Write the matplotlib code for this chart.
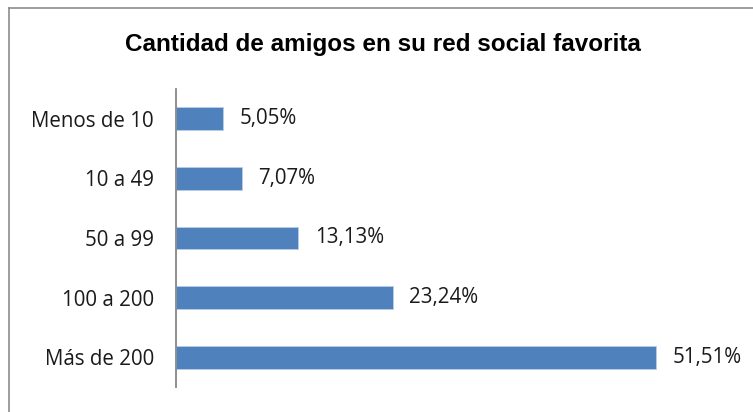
import matplotlib
matplotlib.use("Agg")
import matplotlib.pyplot as plt
from matplotlib.lines import Line2D

categories = ["Menos de 10", "10 a 49", "50 a 99", "100 a 200", "Más de 200"]
values = [5.05, 7.07, 13.13, 23.24, 51.51]
labels = ["5,05%", "7,07%", "13,13%", "23,24%", "51,51%"]
title = "Cantidad de amigos en su red social favorita"

W, H = 753, 412
fig = plt.figure(figsize=(W / 100, H / 100), dpi=100)
fig.patch.set_facecolor("white")

# outer border (top and left visible)
fig.add_artist(Line2D([9 / W, 9 / W], [0, 1 - 8 / H], transform=fig.transFigure, color="#8c8c8c", lw=1.2))
fig.add_artist(Line2D([9 / W, 1], [1 - 8 / H, 1 - 8 / H], transform=fig.transFigure, color="#8c8c8c", lw=1.2))

left, right, top, bottom = 176, 735, 89, 387
ax = fig.add_axes([left / W, 1 - bottom / H, (right - left) / W, (bottom - top) / H])
ypos = list(range(len(categories)))
ax.barh(ypos, values, height=0.38, color="#4f81bd", edgecolor="#b9cde5", linewidth=0.6)
ax.set_ylim(len(categories) - 0.5, -0.5)
ax.set_xlim(0, 60)
ax.set_yticks(ypos)
ax.set_yticklabels(categories, fontsize=14.8, family="Open Sans", color="#1a1a1a")
ax.tick_params(axis="y", length=0, pad=16)
ax.set_xticks([])
for s in ["top", "right", "bottom"]:
    ax.spines[s].set_visible(False)
ax.spines["left"].set_color("#868686")
ax.spines["left"].set_linewidth(1.3)
for y, v, lab in zip(ypos, values, labels):
    ax.annotate(lab, (v, y), xytext=(12, 0), textcoords="offset points",
                va="center", ha="left", fontsize=14.8, family="Open Sans", color="#1a1a1a")

fig.text(383 / W, 1 - 44 / H, title, ha="center", va="center", fontsize=17.5,
         fontweight="bold", family="Liberation Sans", color="black")

fig.savefig("out.png", dpi=100)
